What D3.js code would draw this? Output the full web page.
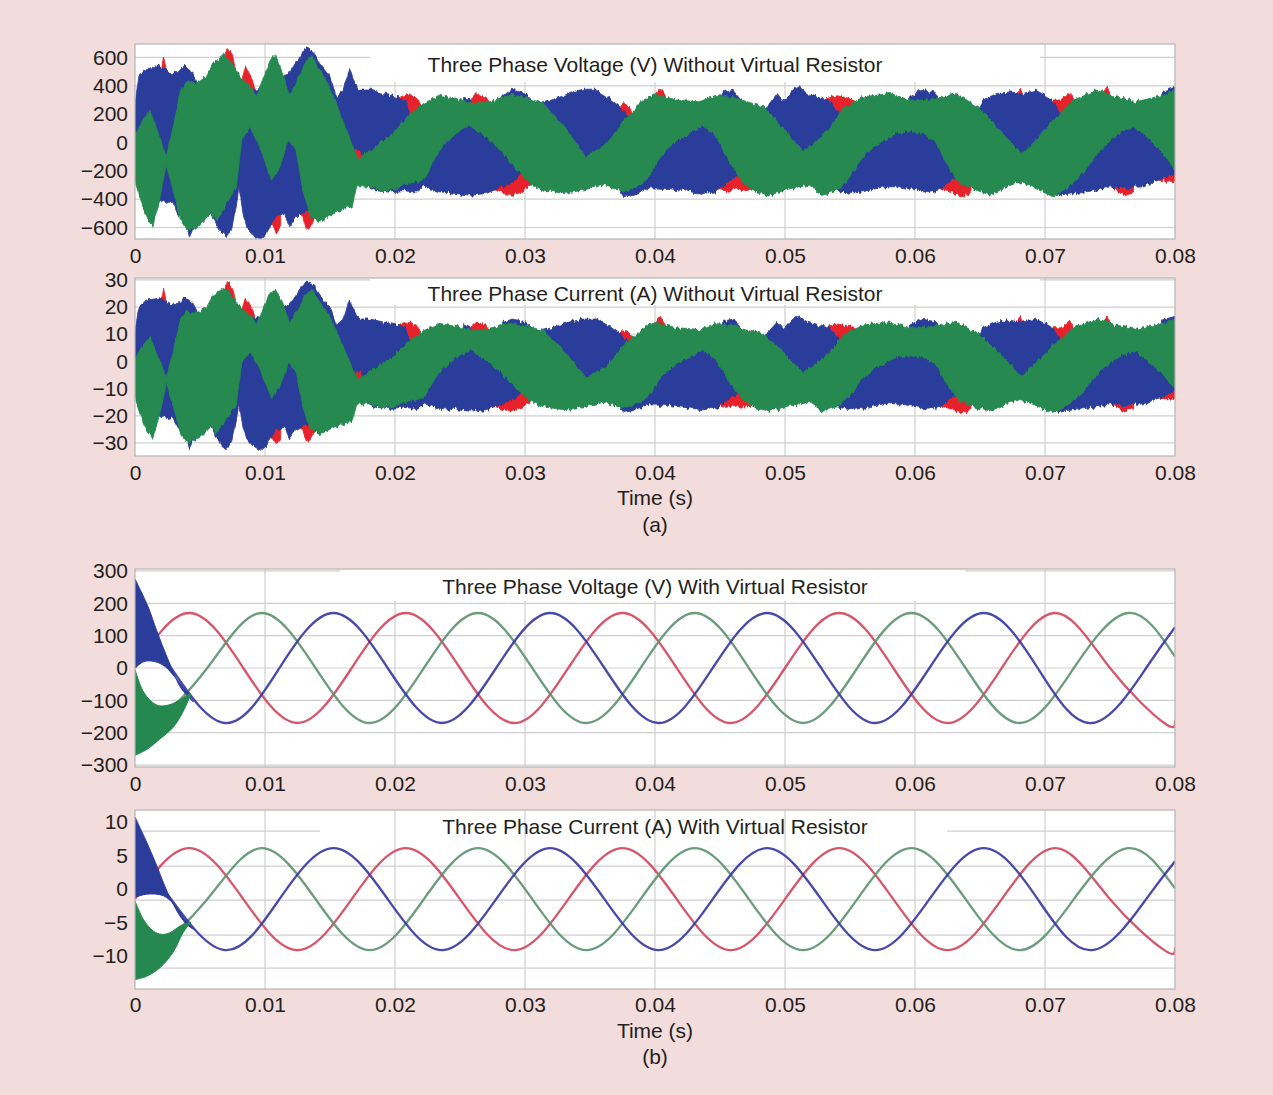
<!DOCTYPE html>
<html><head><meta charset="utf-8">
<script src="https://cdn.jsdelivr.net/npm/d3@7"></script>
<style>
html,body{margin:0;padding:0;background:#f2dcdc;}
svg{display:block;}
text{font-family:"Liberation Sans",Arial,Helvetica,sans-serif;fill:#231f20;}
</style></head><body>
<svg id="chart" width="1273" height="1095"></svg>
<script>
// ---------- shared axis data ----------
const timeTicks = [0, 0.01, 0.02, 0.03, 0.04, 0.05, 0.06, 0.07, 0.08];
const ticksP1 = [600, 400, 200, 0, -200, -400, -600];
const ticksP2 = [30, 20, 10, 0, -10, -20, -30];
const ticksP3 = [300, 200, 100, 0, -100, -200, -300];
const ticksP4 = [10, 5, 0, -5, -10];
const gridP4 = [8.66, 3.43, -1.64, -6.87, -11.8];
const titles = [
  "Three Phase Voltage (V) Without Virtual Resistor",
  "Three Phase Current (A) Without Virtual Resistor",
  "Three Phase Voltage (V) With Virtual Resistor",
  "Three Phase Current (A) With Virtual Resistor"
];
const xLabel = "Time (s)";
const subLabels = ["(a)", "(b)"];

// ---------- panel 1 : voltage without virtual resistor  [t (ms), V] ----------
const v1GreenUp = [[0,40],[0.6,158],[1.15,228],[1.8,64],[2.4,-100],[2.95,111],[3.5,369],[4.0,428],[4.7,416],[5.5,464],[6.0,558],[6.8,616],[7.4,569],[8.1,464],[8.85,393],[9.36,334],[9.9,464],[10.4,581],[10.8,616],[11.3,511],[11.9,334],[12.6,464],[13.2,581],[13.6,616],[14.1,522],[14.7,440],[15.3,320],[16.0,150],[16.8,-40],[17.2,-120],[17.6,-80],[18.1,-54],[19.1,16],[19.6,40],[21.1,193],[22.2,275],[23.4,334],[24.7,311],[26.0,275],[27.3,287],[28.6,334],[29.9,322],[31.4,275],[33.0,111],[34.7,-100],[36.3,-7],[37.6,158],[39.1,299],[40.0,340],[41.7,299],[43.4,287],[44.7,334],[46.3,311],[48.3,252],[49.3,158],[50.4,40],[51.4,-66],[52.4,5],[53.4,99],[54.5,240],[56.0,322],[58.1,346],[59.6,299],[61.1,299],[63.2,346],[65.0,240],[66.3,111],[68.2,-89],[69.3,16],[70.4,134],[72.2,299],[74.0,369],[75.5,322],[77.0,287],[79.1,334],[80,369]];
const v1GreenLo = [[0,-266],[0.6,-454],[1.0,-548],[1.4,-584],[1.9,-407],[2.4,-148],[2.95,-336],[3.5,-548],[4.0,-619],[5.0,-584],[5.8,-501],[6.3,-548],[7.05,-431],[7.8,-313],[8.2,16],[8.85,111],[9.6,-31],[10.5,-266],[11.15,-172],[11.8,16],[12.4,-54],[12.9,-336],[13.5,-525],[14.2,-560],[15.3,-501],[16.2,-466],[16.7,-454],[17.05,-313],[18.1,-313],[19.1,-348],[20.1,-325],[21.1,-289],[22.2,-266],[23.4,-54],[24.7,64],[25.8,122],[27.3,16],[28.3,-78],[29.4,-195],[30.4,-289],[31.4,-336],[33.0,-360],[34.5,-336],[36.0,-301],[37.6,-348],[39.1,-289],[39.8,-200],[40.6,-78],[41.7,16],[42.7,64],[43.7,122],[44.7,40],[45.8,-148],[46.8,-289],[47.8,-348],[48.8,-372],[50.4,-325],[51.9,-301],[52.9,-372],[54.0,-336],[55.0,-242],[56.0,-101],[57.0,-19],[58.6,64],[59.6,75],[60.6,64],[61.7,-7],[62.4,-148],[63.4,-289],[64.7,-336],[65.8,-372],[67.0,-313],[68.1,-278],[69.3,-325],[70.6,-383],[71.9,-313],[72.9,-219],[74.0,-78],[75.0,16],[76.0,82],[77.0,106],[78.1,16],[79.1,-78],[80,-195]];
const v1BlueUp = [[0,270],[0.3,470],[0.9,522],[1.5,530],[1.9,540],[2.7,487],[3.2,487],[3.85,546],[4.4,499],[4.8,420],[5.5,430],[6.5,560],[7.0,600],[7.4,560],[8.0,450],[8.5,380],[9.0,370],[9.4,380],[9.9,410],[10.4,470],[10.8,500],[11.4,470],[11.9,487],[12.7,605],[13.2,675],[13.7,650],[14.2,558],[15.0,463],[15.5,322],[16.0,370],[16.5,522],[16.9,416],[17.3,370],[18.1,370],[19.1,346],[20.1,320],[20.8,300],[21.3,150],[25.0,150],[25.3,320],[25.8,300],[26.2,150],[27.8,200],[28.3,340],[29.0,369],[30.0,350],[30.6,290],[31.4,280],[32.4,311],[33.4,346],[34.5,369],[35.5,369],[36.5,311],[37.3,252],[37.8,200],[38.5,150],[44.8,150],[45.2,350],[46.0,369],[46.6,300],[47.2,150],[48.6,240],[48.8,275],[49.4,346],[49.9,287],[50.6,369],[51.1,393],[51.7,346],[52.4,322],[53.4,299],[54.0,228],[54.6,150],[59.0,150],[59.6,320],[60.5,369],[61.5,350],[62.5,250],[63.5,150],[64.8,200],[65.2,299],[66.3,346],[67.3,357],[68.3,346],[69.3,369],[70.4,311],[70.9,252],[71.5,150],[78.5,150],[79.0,360],[80,390]];
const v1BlueLo = [[0,30],[0.5,-150],[1.5,-350],[1.9,-420],[2.2,-410],[2.6,-430],[2.9,-420],[3.3,-500],[4.0,-600],[4.2,-666],[4.5,-600],[5.0,-560],[5.8,-490],[6.5,-620],[7.0,-666],[7.4,-620],[7.8,-450],[8.0,-300],[8.3,-500],[8.6,-595],[9.2,-666],[9.6,-690],[10.1,-642],[10.4,-595],[10.8,-520],[11.5,-500],[11.9,-595],[12.4,-520],[12.9,-490],[13.5,-480],[14.5,-500],[16.0,-440],[16.6,-300],[16.9,-40],[17.4,-60],[17.8,-300],[18.5,-340],[19.5,-350],[20.6,-340],[21.7,-350],[22.2,-313],[23.4,-348],[24.7,-360],[25.8,-372],[27.0,-360],[28.3,-313],[29.3,-266],[29.9,-195],[30.5,-240],[36.5,-240],[37.2,-330],[37.6,-383],[38.6,-360],[39.6,-320],[41.1,-325],[42.7,-348],[43.7,-360],[44.7,-348],[45.8,-266],[46.5,-220],[53.5,-220],[54.0,-336],[55.0,-360],[56.0,-348],[57.6,-313],[58.8,-313],[60.1,-336],[61.0,-355],[62.0,-330],[62.4,-300],[63.0,-250],[70.5,-250],[71.0,-372],[72.4,-360],[74.0,-336],[75.0,-313],[76.0,-320],[77.6,-313],[79.1,-250],[80,-219]];
const v1RedUp = [[0,0],[1.8,0],[1.9,450],[2.2,610],[2.5,450],[2.6,0],[6.6,0],[6.7,520],[7.1,670],[7.5,620],[7.8,480],[8.2,430],[8.5,535],[8.9,470],[9.2,400],[9.4,300],[9.6,0],[19.5,0],[19.9,300],[20.5,325],[21.2,345],[21.8,300],[22.3,200],[22.5,0],[25.6,0],[25.8,300],[26.3,345],[27.0,320],[27.3,280],[27.5,0],[36.8,0],[37.0,220],[37.5,275],[38.0,260],[38.4,200],[38.6,0],[39.8,0],[40.0,330],[40.4,390],[40.8,330],[41.0,0],[53.0,0],[53.2,310],[54.0,330],[54.8,315],[55.7,280],[55.9,0],[67.6,0],[67.8,350],[68.1,390],[68.4,320],[68.5,0],[70.5,0],[70.6,300],[71.2,300],[71.9,357],[72.4,260],[72.6,0],[74.4,0],[74.5,350],[74.8,390],[75.2,300],[75.4,0],[80,0]];
const v1RedLo = [[0,0],[7.8,0],[7.9,-300],[8.1,-380],[8.3,-300],[8.4,0],[10.3,0],[10.4,-560],[10.9,-640],[11.2,-600],[11.3,0],[12.5,0],[12.6,-480],[12.9,-520],[13.2,-620],[13.5,-600],[13.8,-540],[14.0,0],[16.8,0],[16.9,-100],[17.3,-130],[17.6,-100],[17.7,0],[27.5,0],[27.6,-330],[28.3,-360],[29.1,-372],[29.8,-348],[30.4,-300],[30.6,0],[44.5,0],[44.6,-330],[45.5,-340],[46.3,-320],[47.0,-340],[47.8,-320],[48.0,0],[61.8,0],[61.9,-330],[62.5,-345],[63.3,-370],[63.7,-383],[64.3,-350],[64.6,0],[75.1,0],[75.2,-320],[76.0,-372],[76.8,-350],[77.0,0],[77.9,0],[78.0,-250],[79.0,-270],[79.8,-275],[80,-280]];

// ---------- panel 2 : current without virtual resistor  [t (ms), A] ----------
const i1GreenUp = [[0,0.5],[0.6,5.9],[1.15,9.1],[1.8,1.6],[2.4,-5.9],[2.95,3.8],[3.5,15.6],[4.0,18.3],[4.7,17.8],[5.5,19.9],[6.0,24.3],[6.8,26.9],[7.4,24.8],[8.1,19.9],[8.85,16.7],[9.36,14.0],[9.9,19.9],[10.4,25.3],[10.8,26.9],[11.3,22.1],[11.9,14.0],[12.6,19.9],[13.2,25.3],[13.6,26.9],[14.1,22.6],[14.7,18.9],[15.3,13.4],[16.0,5.6],[16.8,-3.1],[17.2,-6.8],[17.6,-5.0],[18.1,-3.8],[19.1,-0.6],[19.6,0.5],[21.1,7.5],[22.2,11.3],[23.4,14.0],[24.7,12.9],[26.0,11.3],[27.3,11.8],[28.6,14.0],[29.9,13.4],[31.4,11.3],[33.0,3.8],[34.7,-5.9],[36.3,-1.6],[37.6,5.9],[39.1,12.4],[40.0,14.3],[41.7,12.4],[43.4,11.8],[44.7,14.0],[46.3,12.9],[48.3,10.2],[49.3,5.9],[50.4,0.5],[51.4,-4.3],[52.4,-1.1],[53.4,3.2],[54.5,9.7],[56.0,13.4],[58.1,14.5],[59.6,12.4],[61.1,12.4],[63.2,14.5],[65.0,9.7],[66.3,3.8],[68.2,-5.4],[69.3,-0.6],[70.4,4.8],[72.2,12.4],[74.0,15.6],[75.5,13.4],[77.0,11.8],[79.1,14.0],[80,15.6]];
const i1GreenLo = [[0,-13.5],[0.6,-22.1],[1.0,-26.4],[1.4,-28.0],[1.9,-19.9],[2.4,-8.1],[2.95,-16.7],[3.5,-26.4],[4.0,-29.7],[5.0,-28.0],[5.8,-24.2],[6.3,-26.4],[7.05,-21.0],[7.8,-15.6],[8.2,-0.6],[8.85,3.8],[9.6,-2.7],[10.5,-13.5],[11.15,-9.2],[11.8,-0.6],[12.4,-3.8],[12.9,-16.7],[13.5,-25.3],[14.2,-26.9],[15.3,-24.2],[16.2,-22.6],[16.7,-22.1],[17.05,-15.6],[18.1,-15.6],[19.1,-17.2],[20.1,-16.2],[21.1,-14.5],[22.2,-13.5],[23.4,-3.8],[24.7,1.6],[25.8,4.3],[27.3,-0.6],[28.3,-4.9],[29.4,-10.2],[30.4,-14.5],[31.4,-16.7],[33.0,-17.8],[34.5,-16.7],[36.0,-15.1],[37.6,-17.2],[39.1,-14.5],[39.8,-10.5],[40.6,-4.9],[41.7,-0.6],[42.7,1.6],[43.7,4.3],[44.7,0.5],[45.8,-8.1],[46.8,-14.5],[47.8,-17.2],[48.8,-18.3],[50.4,-16.2],[51.9,-15.1],[52.9,-18.3],[54.0,-16.7],[55.0,-12.4],[56.0,-5.9],[57.0,-2.2],[58.6,1.6],[59.6,2.1],[60.6,1.6],[61.7,-1.6],[62.4,-8.1],[63.4,-14.5],[64.7,-16.7],[65.8,-18.3],[67.0,-15.6],[68.1,-14.0],[69.3,-16.2],[70.6,-18.8],[71.9,-15.6],[72.9,-11.3],[74.0,-4.9],[75.0,-0.6],[76.0,2.5],[77.0,3.6],[78.1,-0.6],[79.1,-4.9],[80,-10.2]];
const i1BlueUp = [[0,11.1],[0.3,20.2],[0.9,22.6],[1.5,23.0],[1.9,23.4],[2.7,21.0],[3.2,21.0],[3.85,23.7],[4.4,21.6],[4.8,17.9],[5.5,18.4],[6.5,24.3],[7.0,26.2],[7.4,24.3],[8.0,19.3],[8.5,16.1],[9.0,15.6],[9.4,16.1],[9.9,17.5],[10.4,20.2],[10.8,21.6],[11.4,20.2],[11.9,21.0],[12.7,26.4],[13.2,29.6],[13.7,28.5],[14.2,24.3],[15.0,19.9],[15.5,13.4],[16.0,15.6],[16.5,22.6],[16.9,17.8],[17.3,15.6],[18.1,15.6],[19.1,14.5],[20.1,13.4],[20.8,12.4],[21.3,5.6],[25.0,5.6],[25.3,13.4],[25.8,12.4],[26.2,5.6],[27.8,7.9],[28.3,14.3],[29.0,15.6],[30.0,14.7],[30.6,12.0],[31.4,11.5],[32.4,12.9],[33.4,14.5],[34.5,15.6],[35.5,15.6],[36.5,12.9],[37.3,10.2],[37.8,7.9],[38.5,5.6],[44.8,5.6],[45.2,14.7],[46.0,15.6],[46.6,12.4],[47.2,5.6],[48.6,9.7],[48.8,11.3],[49.4,14.5],[49.9,11.8],[50.6,15.6],[51.1,16.7],[51.7,14.5],[52.4,13.4],[53.4,12.4],[54.0,9.1],[54.6,5.6],[59.0,5.6],[59.6,13.4],[60.5,15.6],[61.5,14.7],[62.5,10.2],[63.5,5.6],[64.8,7.9],[65.2,12.4],[66.3,14.5],[67.3,15.1],[68.3,14.5],[69.3,15.6],[70.4,12.9],[70.9,10.2],[71.5,5.6],[78.5,5.6],[79.0,15.2],[80,16.6]];
const i1BlueLo = [[0,0.1],[0.5,-8.2],[1.5,-17.3],[1.9,-20.5],[2.2,-20.1],[2.6,-21.0],[2.9,-20.5],[3.3,-24.2],[4.0,-28.8],[4.2,-31.8],[4.5,-28.8],[5.0,-26.9],[5.8,-23.7],[6.5,-29.7],[7.0,-31.8],[7.4,-29.7],[7.8,-21.9],[8.0,-15.0],[8.3,-24.2],[8.6,-28.5],[9.2,-31.8],[9.6,-32.9],[10.1,-30.7],[10.4,-28.5],[10.8,-25.1],[11.5,-24.2],[11.9,-28.5],[12.4,-25.1],[12.9,-23.7],[13.5,-23.3],[14.5,-24.2],[16.0,-21.5],[16.6,-15.0],[16.9,-3.1],[17.4,-4.0],[17.8,-15.0],[18.5,-16.9],[19.5,-17.3],[20.6,-16.9],[21.7,-17.3],[22.2,-15.6],[23.4,-17.2],[24.7,-17.8],[25.8,-18.3],[27.0,-17.8],[28.3,-15.6],[29.3,-13.5],[29.9,-10.2],[30.5,-12.3],[36.5,-12.3],[37.2,-16.4],[37.6,-18.8],[38.6,-17.8],[39.6,-16.0],[41.1,-16.2],[42.7,-17.2],[43.7,-17.8],[44.7,-17.2],[45.8,-13.5],[46.5,-11.4],[53.5,-11.4],[54.0,-16.7],[55.0,-17.8],[56.0,-17.2],[57.6,-15.6],[58.8,-15.6],[60.1,-16.7],[61.0,-17.6],[62.0,-16.4],[62.4,-15.0],[63.0,-12.8],[70.5,-12.8],[71.0,-18.3],[72.4,-17.8],[74.0,-16.7],[75.0,-15.6],[76.0,-16.0],[77.6,-15.6],[79.1,-12.8],[80,-11.3]];
const i1RedUp = [[0,0],[1.8,0],[1.9,19.3],[2.2,26.6],[2.5,19.3],[2.6,0],[6.6,0],[6.7,22.5],[7.1,29.4],[7.5,27.1],[7.8,20.7],[8.2,18.4],[8.5,23.2],[8.9,20.2],[9.2,17.0],[9.4,12.4],[9.6,0],[19.5,0],[19.9,12.4],[20.5,13.6],[21.2,14.5],[21.8,12.4],[22.3,7.9],[22.5,0],[25.6,0],[25.8,12.4],[26.3,14.5],[27.0,13.4],[27.3,11.5],[27.5,0],[36.8,0],[37.0,8.8],[37.5,11.3],[38.0,10.6],[38.4,7.9],[38.6,0],[39.8,0],[40.0,13.8],[40.4,16.6],[40.8,13.8],[41.0,0],[53.0,0],[53.2,12.9],[54.0,13.8],[54.8,13.1],[55.7,11.5],[55.9,0],[67.6,0],[67.8,14.7],[68.1,16.6],[68.4,13.4],[68.5,0],[70.5,0],[70.6,12.4],[71.2,12.4],[71.9,15.1],[72.4,10.6],[72.6,0],[74.4,0],[74.5,14.7],[74.8,16.6],[75.2,12.4],[75.4,0],[80,0]];
const i1RedLo = [[0,0],[7.8,0],[7.9,-15.0],[8.1,-18.7],[8.3,-15.0],[8.4,0],[10.3,0],[10.4,-26.9],[10.9,-30.6],[11.2,-28.8],[11.3,0],[12.5,0],[12.6,-23.3],[12.9,-25.1],[13.2,-29.7],[13.5,-28.8],[13.8,-26.0],[14.0,0],[16.8,0],[16.9,-5.9],[17.3,-7.3],[17.6,-5.9],[17.7,0],[27.5,0],[27.6,-16.4],[28.3,-17.8],[29.1,-18.3],[29.8,-17.2],[30.4,-15.0],[30.6,0],[44.5,0],[44.6,-16.4],[45.5,-16.9],[46.3,-16.0],[47.0,-16.9],[47.8,-16.0],[48.0,0],[61.8,0],[61.9,-16.4],[62.5,-17.1],[63.3,-18.2],[63.7,-18.8],[64.3,-17.3],[64.6,0],[75.1,0],[75.2,-16.0],[76.0,-18.3],[76.8,-17.3],[77.0,0],[77.9,0],[78.0,-12.8],[79.0,-13.7],[79.8,-13.9],[80,-14.1]];

// ---------- panel 3 : voltage with virtual resistor  [t (ms), V] ----------
const v2Red = [[0,0],[4.17,170],[8.33,0],[12.5,-170],[16.67,0],[20.83,170],[25,0],[29.17,-170],[33.33,0],[37.5,170],[41.67,0],[45.83,-170],[50,0],[54.17,170],[58.33,0],[62.5,-170],[66.67,0],[70.83,170],[75,0],[79.17,-170],[80,-162]];
const v2Green = [[0,-147],[1.39,-170],[5.56,0],[9.72,170],[13.89,0],[18.06,-170],[22.22,0],[26.39,170],[30.56,0],[34.72,-170],[38.89,0],[43.06,170],[47.22,0],[51.39,-170],[55.56,0],[59.72,170],[63.89,0],[68.06,-170],[72.22,0],[76.39,170],[80,35]];
const v2Blue = [[0,147],[2.78,0],[6.94,-170],[11.11,0],[15.28,170],[19.44,0],[23.61,-170],[27.78,0],[31.94,170],[36.11,0],[40.28,-170],[44.44,0],[48.61,170],[52.78,0],[56.94,-170],[61.11,0],[65.28,170],[69.44,0],[73.61,-170],[77.78,0],[80,126]];
const v2BlueBandUp = [[0,275],[1.0,190],[1.67,115],[2.5,30],[3.46,-57],[4.0,-85],[4.5,-105]];
const v2BlueBandLo = [[0,0],[0.7,20],[1.5,20],[2.3,5],[3.0,-25],[3.7,-60],[4.2,-88],[4.5,-105]];
const v2GreenBandUp = [[0,-5],[0.6,-70],[1.3,-105],[1.9,-117],[2.7,-113],[3.5,-97],[4.1,-82],[4.3,-80]];
const v2GreenBandLo = [[0,-270],[0.9,-252],[1.9,-220],[2.9,-185],[3.7,-135],[4.3,-80]];

// ---------- panel 4 : current with virtual resistor  [t (ms), A] ----------
const i2Red = [[0,-1.5],[4.17,6.1],[8.33,-1.5],[12.5,-9.1],[16.67,-1.5],[20.83,6.1],[25,-1.5],[29.17,-9.1],[33.33,-1.5],[37.5,6.1],[41.67,-1.5],[45.83,-9.1],[50,-1.5],[54.17,6.1],[58.33,-1.5],[62.5,-9.1],[66.67,-1.5],[70.83,6.1],[75,-1.5],[79.17,-9.1],[80,-8.7]];
const i2Green = [[0,-8.1],[1.39,-9.1],[5.56,-1.5],[9.72,6.1],[13.89,-1.5],[18.06,-9.1],[22.22,-1.5],[26.39,6.1],[30.56,-1.5],[34.72,-9.1],[38.89,-1.5],[43.06,6.1],[47.22,-1.5],[51.39,-9.1],[55.56,-1.5],[59.72,6.1],[63.89,-1.5],[68.06,-9.1],[72.22,-1.5],[76.39,6.1],[80,0.1]];
const i2Blue = [[0,5.1],[2.78,-1.5],[6.94,-9.1],[11.11,-1.5],[15.28,6.1],[19.44,-1.5],[23.61,-9.1],[27.78,-1.5],[31.94,6.1],[36.11,-1.5],[40.28,-9.1],[44.44,-1.5],[48.61,6.1],[52.78,-1.5],[56.94,-9.1],[61.11,-1.5],[65.28,6.1],[69.44,-1.5],[73.61,-9.1],[77.78,-1.5],[80,4.15]];
const i2BlueBandUp = [[0,10.75],[0.9,7.0],[1.67,3.5],[2.5,-0.5],[3.46,-4.0],[4.0,-5.3],[4.5,-6.0]];
const i2BlueBandLo = [[0,-1.25],[0.9,-0.75],[2.2,-1.0],[3.1,-2.5],[3.7,-4.2],[4.2,-5.3],[4.5,-6.0]];
const i2GreenBandUp = [[0,-1.75],[0.64,-4.5],[1.4,-6.25],[2.05,-6.75],[2.7,-6.5],[3.46,-5.5],[4.0,-5.1],[4.3,-4.9]];
const i2GreenBandLo = [[0,-13.5],[0.9,-13.0],[1.9,-11.75],[2.9,-9.5],[3.7,-6.5],[4.3,-4.9]];

// ---------- drawing ----------
const W = 1273, H = 1095;
const COL = {red:"#e8232a", blue:"#2c3c9b", green:"#25894f",
             redLine:"#d2485e", blueLine:"#3a39a2", greenLine:"#5e9472",
             grid:"#cfcfcf", frame:"#b5b5b5", bg:"#f2dcdc"};
const FS = 21;
const svg = d3.select("#chart");
svg.append("rect").attr("width", W).attr("height", H).attr("fill", COL.bg);

// edge roughening filter (style only) for the switching-ripple bands
const defs = svg.append("defs");
const f = defs.append("filter").attr("id", "rough")
  .attr("x", "-1%").attr("y", "-5%").attr("width", "102%").attr("height", "110%");
f.append("feTurbulence").attr("type", "fractalNoise").attr("baseFrequency", "0.35 0.05")
  .attr("numOctaves", 3).attr("seed", 7).attr("result", "n0");
f.append("feColorMatrix").attr("in", "n0").attr("type", "matrix")
  .attr("values", "1 0 0 0 0  0 0 0 0 0.5  0 0 1 0 0  0 0 0 0 1").attr("result", "n");
f.append("feDisplacementMap").attr("in", "SourceGraphic").attr("in2", "n")
  .attr("scale", 7).attr("xChannelSelector", "G").attr("yChannelSelector", "R");

const x = d3.scaleLinear().domain([0, 0.08]).range([135, 1175]);
const fmtX = d => d === 0 ? "0" : d3.format(".2f")(d);

function bandPath(up, lo, y, curve) {
  const line = d3.line().x(d => x(d[0] / 1000)).y(d => y(d[1])).curve(curve);
  const a = line(up);
  const b = line(lo.slice().reverse());
  return a + b.replace(/^M/, "L") + "Z";
}

function panel(cfg) {
  const y = d3.scaleLinear().domain(cfg.domain).range([cfg.bottom, cfg.top]);
  const g = svg.append("g");
  const clipId = "clip" + cfg.id;
  g.append("clipPath").attr("id", clipId).append("rect")
    .attr("x", 135).attr("y", cfg.top).attr("width", 1040).attr("height", cfg.bottom - cfg.top);
  g.append("rect").attr("x", 135).attr("y", cfg.top).attr("width", 1040)
    .attr("height", cfg.bottom - cfg.top).attr("fill", "#ffffff");
  const gridV = () => g.append("g").selectAll("line").data(timeTicks.slice(1, -1)).join("line")
    .attr("x1", d => x(d)).attr("x2", d => x(d)).attr("y1", cfg.top).attr("y2", cfg.bottom)
    .attr("stroke", COL.grid).attr("stroke-width", 1.2);
  g.append("g").selectAll("line").data(cfg.grid).join("line")
    .attr("x1", 135).attr("x2", 1175).attr("y1", d => y(d)).attr("y2", d => y(d))
    .attr("stroke", COL.grid).attr("stroke-width", 1.2);
  if (cfg.coverV) gridV();
  g.append("rect").attr("x", cfg.cover[0]).attr("y", cfg.cover[1])
    .attr("width", cfg.cover[2] - cfg.cover[0]).attr("height", cfg.cover[3] - cfg.cover[1])
    .attr("fill", "#ffffff");
  if (!cfg.coverV) gridV();
  const data = g.append("g").attr("clip-path", `url(#${clipId})`).append("g");
  cfg.draw(data, y);
  g.append("rect").attr("x", 135).attr("y", cfg.top).attr("width", 1040)
    .attr("height", cfg.bottom - cfg.top).attr("fill", "none")
    .attr("stroke", COL.frame).attr("stroke-width", 1.2);
  g.append("text").attr("x", 655).attr("y", cfg.titleY).attr("text-anchor", "middle")
    .attr("font-size", FS).text(cfg.title);
  const ya = g.append("g").attr("transform", "translate(135,0)")
    .call(d3.axisLeft(y).tickValues(cfg.ticks).tickSize(0).tickPadding(7));
  ya.select(".domain").remove();
  ya.selectAll("text").attr("font-size", FS).attr("font-family", null).attr("fill", "#231f20");
  const xa = g.append("g").attr("transform", `translate(0,${cfg.bottom})`)
    .call(d3.axisBottom(x).tickValues(timeTicks).tickFormat(fmtX).tickSize(0).tickPadding(cfg.xpad));
  xa.select(".domain").remove();
  xa.selectAll("text").attr("font-size", FS).attr("font-family", null).attr("fill", "#231f20");
}

function drawNoisy(sets) {
  return (g, y) => {
    const inner = g.append("g").attr("filter", "url(#rough)");
    sets.forEach(s => {
      inner.append("path").attr("d", bandPath(s.up, s.lo, y, d3.curveLinear))
        .attr("fill", s.color).attr("stroke", s.color).attr("stroke-width", 0.8)
        .attr("stroke-linejoin", "round");
    });
  };
}
function drawClean(lines, bands) {
  return (g, y) => {
    const ln = d3.line().x(d => x(d[0] / 1000)).y(d => y(d[1])).curve(d3.curveNatural);
    lines.forEach(s => {
      g.append("path").attr("d", ln(s.data)).attr("fill", "none")
        .attr("stroke", s.color).attr("stroke-width", 2.3).attr("stroke-opacity", 0.92);
    });
    bands.forEach(s => {
      g.append("path").attr("d", bandPath(s.up, s.lo, y, d3.curveCatmullRom.alpha(0.5)))
        .attr("fill", s.color).attr("stroke", s.color).attr("stroke-width", 1);
    });
  };
}

panel({id:1, top:44, bottom:239, domain:[-681, 695], ticks:ticksP1, grid:ticksP1,
  cover:[370, 44, 1040, 82], coverV:true, title:titles[0], titleY:72, xpad:9,
  draw: drawNoisy([
    {up:v1RedUp, lo:v1RedLo, color:COL.red},
    {up:v1BlueUp, lo:v1BlueLo, color:COL.blue},
    {up:v1GreenUp, lo:v1GreenLo, color:COL.green}])});

panel({id:2, top:278, bottom:456, domain:[-34.8, 30.7], ticks:ticksP2, grid:ticksP2,
  cover:[370, 278, 1040, 305], coverV:true, title:titles[1], titleY:301, xpad:9,
  draw: drawNoisy([
    {up:i1RedUp, lo:i1RedLo, color:COL.red},
    {up:i1BlueUp, lo:i1BlueLo, color:COL.blue},
    {up:i1GreenUp, lo:i1GreenLo, color:COL.green}])});

panel({id:3, top:569, bottom:767, domain:[-306, 306], ticks:ticksP3, grid:ticksP3,
  cover:[340, 569, 965, 601], coverV:true, title:titles[2], titleY:594, xpad:9,
  draw: drawClean(
    [{data:v2Red, color:COL.redLine}, {data:v2Green, color:COL.greenLine}, {data:v2Blue, color:COL.blueLine}],
    [{up:v2BlueBandUp, lo:v2BlueBandLo, color:COL.blue}, {up:v2GreenBandUp, lo:v2GreenBandLo, color:COL.green}])});

panel({id:4, top:810, bottom:989, domain:[-14.9, 11.8], ticks:ticksP4, grid:gridP4,
  cover:[320, 811, 947, 845], coverV:false, title:titles[3], titleY:834, xpad:8,
  draw: drawClean(
    [{data:i2Red, color:COL.redLine}, {data:i2Green, color:COL.greenLine}, {data:i2Blue, color:COL.blueLine}],
    [{up:i2BlueBandUp, lo:i2BlueBandLo, color:COL.blue}, {up:i2GreenBandUp, lo:i2GreenBandLo, color:COL.green}])});

// axis titles and sub-figure labels
[[505, xLabel], [532, subLabels[0]], [1038, xLabel], [1064, subLabels[1]]].forEach(([yy, t]) => {
  svg.append("text").attr("x", 655).attr("y", yy).attr("text-anchor", "middle")
    .attr("font-size", FS).text(t);
});
</script>
</body></html>
